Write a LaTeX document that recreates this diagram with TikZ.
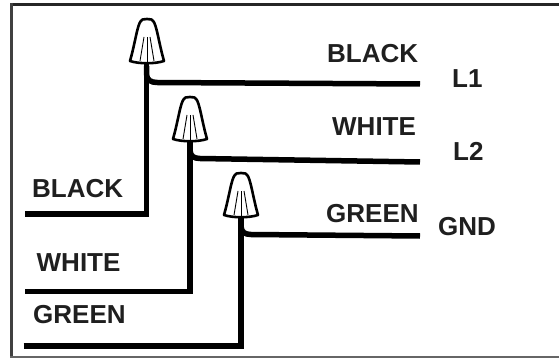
\documentclass[tikz,border=0pt]{standalone}
\usepackage{fontspec}
\setmainfont{Liberation Sans}
\begin{document}
\begin{tikzpicture}[x=1pt,y=-1pt,
  wirepath/.style={line width=5.5pt,black,line join=miter},
  lab/.style={font=\bfseries\fontsize{26}{30}\selectfont,text=black!88,inner sep=0pt,anchor=base west},
  capshape/.style={line width=2.6pt,black,fill=white,line join=round},
  rib/.style={line width=0.9pt,black}]
\useasboundingbox (0,0) rectangle (559,358);
\fill[white] (0,0) rectangle (559,358);
\draw[line width=3pt,black!85] (11.5,4.5) -- (559,4.5);
\draw[line width=3pt,black!75] (11.5,3) -- (11.5,357);
\draw[line width=2pt,black!60] (10,357) -- (559,357);
\def\wnut#1#2{%
  \draw[capshape] (#1-17,#2-1) .. controls (#1-13,#2-15) and (#1-11,#2-28) .. (#1-8.5,#2-36)
   .. controls (#1-6,#2-44) and (#1-3,#2-43) .. (#1,#2-43)
   .. controls (#1+3,#2-43) and (#1+6,#2-44) .. (#1+8.5,#2-36)
   .. controls (#1+11,#2-28) and (#1+13,#2-15) .. (#1+17,#2-1)
   .. controls (#1+8,#2+2) and (#1-8,#2+2) .. (#1-17,#2-1) -- cycle;
  \draw[rib] (#1,#2) -- (#1,#2-25);
  \draw[rib] (#1-7,#2-1) -- (#1-3,#2-25);
  \draw[rib] (#1+7,#2-1) -- (#1+3,#2-25);
}
% wires
\draw[wirepath] (25,214) -- (146.5,214) -- (146.5,60);
\draw[wirepath] (146.5,66) -- (146.5,74) .. controls (146.5,80) and (151,82.5) .. (157,82.5) -- (420,84);
\draw[wirepath] (25,291.5) -- (190,291.5) -- (190,136);
\draw[wirepath] (190,140) -- (190,150) .. controls (190,156) and (194,158.5) .. (200,158.5) -- (420,162);
\draw[wirepath] (23.5,346) -- (241,346) -- (241,212);
\draw[wirepath] (241,215) -- (241,226) .. controls (241,232) and (245,234.5) .. (251,234.5) -- (420,236);
\wnut{147}{62}
\wnut{190}{140}
\wnut{241}{216}
\node[lab] (t1) at (32,197) {BLACK};
\node[lab] (t2) at (36.5,271) {WHITE};
\node[lab] (t3) at (33,323) {GREEN};
\node[lab] (t4) at (327,62.5) {BLACK};
\node[lab] (t5) at (332,136) {WHITE};
\node[lab] (t6) at (326,222.5) {GREEN};
\node[lab] (t7) at (452,87.5) {L1};
\node[lab] (t8) at (453,160.5) {L2};
\node[lab] (t9) at (438,235) {GND};
\end{tikzpicture}
\end{document}
